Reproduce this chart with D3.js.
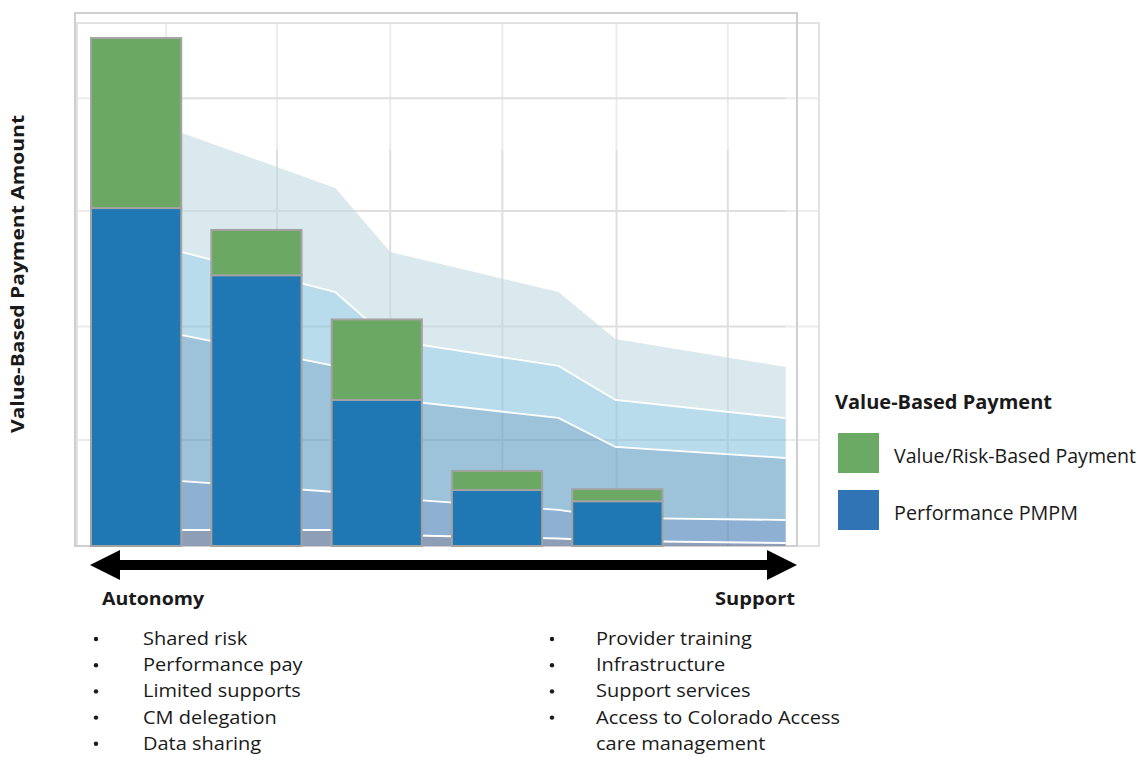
<!DOCTYPE html>
<html><head><meta charset="utf-8">
<script src="https://cdn.jsdelivr.net/npm/d3@7"></script>
<style>body{margin:0;background:#fff} svg{display:block}</style>
</head><body>
<svg id="chart" width="1143" height="757"></svg>
<script>
// ---------- data ----------
const categories = ["Tier 1", "Tier 2", "Tier 3", "Tier 4", "Tier 5"];
const performancePMPM = [63.4, 50.8, 27.4, 10.5, 8.4];
const valueRiskPayment = [31.9, 8.5, 15.1, 3.6, 2.25];

// background stacked bands (positions in category-step units)
const bandKnots = [0.757, 2.03, 2.487, 3.885, 4.359, 5.774];
const band1 = [3.0, 3.0, 2.06, 1.41, 0.94, 0.56];
const band2 = [9.19, 7.13, 6.94, 5.35, 4.32, 4.32];
const band3 = [27.39, 23.64, 18.57, 17.26, 13.32, 11.63];
const band4 = [15.57, 13.88, 11.07, 9.76, 8.82, 7.5];
const band5 = [22.33, 19.51, 16.51, 13.88, 11.44, 9.57];
const bandColors = ["#8d9eb6", "#8eb0d3", "#9dc3db", "#b8dcec", "#d9e9ed"];

const gridX = [0.624, 1.546, 2.487, 3.419, 4.368, 5.293];
const gridY = [19.9, 41.2, 62.85, 84.0];

const seriesNames = ["Value/Risk-Based Payment", "Performance PMPM"];
const legendColors = ["#6aaa64", "#3174b5"];
const barColors = { perf: "#1f77b4", value: "#6aa864" };

const autonomyItems = ["Shared risk", "Performance pay", "Limited supports", "CM delegation", "Data sharing"];
const supportItems = ["Provider training", "Infrastructure", "Support services", "Access to Colorado Access", "care management"];
const supportBullets = [true, true, true, true, false];

// ---------- layout ----------
const svg = d3.select("#chart");
const FONT = "'Open Sans', 'Noto Sans', sans-serif";

const y = d3.scaleLinear().domain([0, 100]).range([546, 13]);
const x = d3.scaleBand().domain(categories).range([91, 662.5]).paddingInner(0.25).paddingOuter(0);
const xPos = d3.scaleLinear().domain([0, 5]).range([91, 91 + 5 * x.step()]);

// grid (under)
const gridG = svg.append("g");
gridG.selectAll("line.h").data(gridY).join("line")
  .attr("x1", 77).attr("x2", 819).attr("y1", d => y(d)).attr("y2", d => y(d))
  .attr("stroke", "#ececec").attr("stroke-width", 2);
gridG.selectAll("line.v").data(gridX).join("line")
  .attr("y1", 23).attr("y2", 546).attr("x1", d => xPos(d)).attr("x2", d => xPos(d))
  .attr("stroke", "#ececec").attr("stroke-width", 2);

// frames
svg.append("rect").attr("x", 77).attr("y", 23).attr("width", 742).attr("height", 523)
  .attr("fill", "none").attr("stroke", "#e2e2e2").attr("stroke-width", 2);
svg.append("rect").attr("x", 75).attr("y", 13).attr("width", 722).attr("height", 533)
  .attr("fill", "none").attr("stroke", "#cfcfcf").attr("stroke-width", 2);

// stacked bands
const bandTable = bandKnots.map((k, i) => ({ k, b1: band1[i], b2: band2[i], b3: band3[i], b4: band4[i], b5: band5[i] }));
const stacked = d3.stack().keys(["b1", "b2", "b3", "b4", "b5"])(bandTable);
const area = d3.area().x(d => xPos(d.data.k)).y0(d => y(d[0])).y1(d => y(d[1]));
const topLine = d3.line().x(d => xPos(d.data.k)).y(d => y(d[1]));
svg.append("g").selectAll("path").data(stacked).join("path")
  .attr("d", area).attr("fill", (d, i) => bandColors[i]);

// grid overlay (faint through the bands)
const gridO = svg.append("g").attr("opacity", 0.05);
gridO.selectAll("line.h").data(gridY).join("line")
  .attr("x1", xPos(bandKnots[0])).attr("x2", xPos(bandKnots[bandKnots.length - 1]))
  .attr("y1", d => y(d)).attr("y2", d => y(d)).attr("stroke", "#000").attr("stroke-width", 2);
gridO.selectAll("line.v").data(gridX.filter(g => g > bandKnots[0])).join("line")
  .attr("y1", 150).attr("y2", 546).attr("x1", d => xPos(d)).attr("x2", d => xPos(d))
  .attr("stroke", "#000").attr("stroke-width", 2);

// white separators
svg.append("g").selectAll("path").data(stacked.slice(0, 4)).join("path")
  .attr("d", topLine).attr("fill", "none").attr("stroke", "#fff").attr("stroke-width", 1.8);

// bars
const barG = svg.append("g");
categories.forEach((c, i) => {
  const p = performancePMPM[i], v = valueRiskPayment[i];
  barG.append("rect").attr("x", x(c)).attr("width", x.bandwidth())
    .attr("y", y(p)).attr("height", y(0) - y(p))
    .attr("fill", barColors.perf).attr("stroke", "#a3a3a3").attr("stroke-width", 2);
  barG.append("rect").attr("x", x(c)).attr("width", x.bandwidth())
    .attr("y", y(p + v)).attr("height", y(p) - y(p + v))
    .attr("fill", barColors.value).attr("stroke", "#a3a3a3").attr("stroke-width", 2);
});

// arrow
const ax0 = 90, ax1 = 797, ay = 565;
svg.append("path").attr("fill", "#000").attr("d",
  `M${ax0},${ay} L${ax0 + 30},${ay - 15} L${ax0 + 30},${ay - 5} L${ax1 - 30},${ay - 5} L${ax1 - 30},${ay - 15} L${ax1},${ay} L${ax1 - 30},${ay + 15} L${ax1 - 30},${ay + 5} L${ax0 + 30},${ay + 5} L${ax0 + 30},${ay + 15} Z`);

// text helper
function txt(str, xx, yy, size, weight, anchor, width) {
  const t = svg.append("text").attr("x", xx).attr("y", yy).text(str)
    .attr("font-family", FONT).attr("font-size", size).attr("font-weight", weight)
    .attr("text-anchor", anchor || "start").attr("fill", "#1a1a1a");
  if (width) t.attr("textLength", width).attr("lengthAdjust", "spacingAndGlyphs");
  return t;
}

// y title
svg.append("text").attr("transform", "translate(24,274) rotate(-90)")
  .attr("text-anchor", "middle").attr("font-family", FONT).attr("font-size", 18.5)
  .attr("font-weight", 700).attr("fill", "#1a1a1a")
  .attr("textLength", 318).attr("lengthAdjust", "spacingAndGlyphs")
  .text("Value-Based Payment Amount");

txt("Autonomy", 102, 605, 17.5, 700, "start", 102);
txt("Support", 795, 605, 17.5, 700, "end", 80);

// bullet lists
const probe = svg.append("text").attr("font-family", FONT).attr("font-size", 19).text("Access to Colorado Access");
const kx = 244 / probe.node().getComputedTextLength();
probe.remove();
function bulletList(items, bx, tx, bullets) {
  items.forEach((s, i) => {
    const yy = 645 + i * 26.2;
    if (bullets[i]) svg.append("circle").attr("cx", bx).attr("cy", yy - 6).attr("r", 2.2).attr("fill", "#1a1a1a");
    const t = txt(s, tx, yy, 19, 400, "start");
    t.attr("textLength", t.node().getComputedTextLength() * kx).attr("lengthAdjust", "spacingAndGlyphs");
  });
}
bulletList(autonomyItems, 96, 143, autonomyItems.map(() => true));
bulletList(supportItems, 552, 596, supportBullets);

// legend
txt("Value-Based Payment", 835, 409, 19.5, 700, "start", 217);
const legendWidths = [242, 184];
const legY = [433, 490];
const legBase = [463, 520];
seriesNames.forEach((s, i) => {
  svg.append("rect").attr("x", 838).attr("y", legY[i]).attr("width", 41).attr("height", 40)
    .attr("fill", legendColors[i]);
  txt(s, 894, legBase[i], 19.5, 400, "start", legendWidths[i]);
});
</script>
</body></html>
